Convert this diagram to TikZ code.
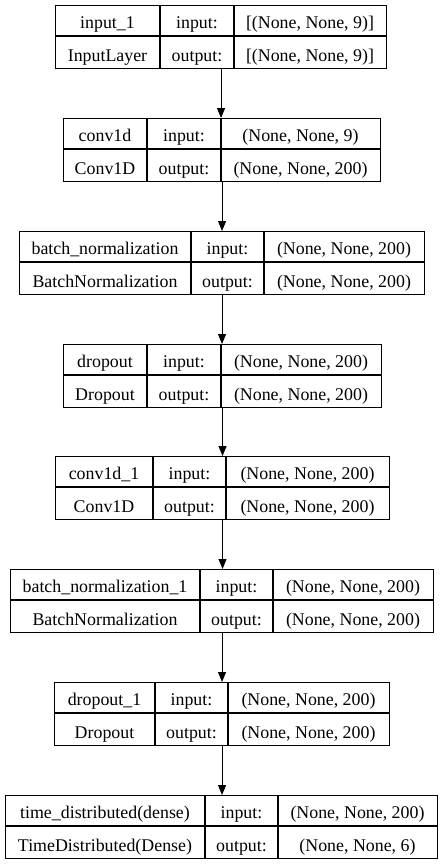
\documentclass[tikz,border=0pt]{standalone}
\usepackage{fontspec}
\setmainfont{Liberation Serif}
\usetikzlibrary{arrows.meta}
\tikzset{
  lay/.style={draw=black, line width=0.8pt, rectangle, inner sep=0pt, anchor=north west},
  sep/.style={draw=black, line width=0.8pt},
  txt/.style={inner sep=0pt, anchor=base, font=\fontsize{13.4pt}{16pt}\selectfont, text=black},
  flow/.style={draw=black, line width=0.8pt, -{Triangle[length=7.5pt,width=6pt]}}
}
% #1 name, #2 top y, #3 x1, #4 divider1, #5 divider2, #6 x2
\newcommand\layerframe[6]{%
  \node[lay, minimum width={(#6-#3)*0.75pt}, minimum height={63*0.75pt}] (#1) at (#3,#2) {};
  \draw[sep] (#3,{#2+31}) -- (#6,{#2+31});
  \draw[sep] (#4,#2) -- (#4,{#2+63});
  \draw[sep] (#5,#2) -- (#5,{#2+63});
  \coordinate (#1-c1a) at ({(#3+#4)/2},{#2+23.5});
  \coordinate (#1-c1b) at ({(#3+#4)/2},{#2+56});
  \coordinate (#1-c2a) at ({(#4+#5)/2},{#2+23.5});
  \coordinate (#1-c2b) at ({(#4+#5)/2},{#2+56});
  \coordinate (#1-c3a) at ({(#5+#6)/2},{#2+23.5});
  \coordinate (#1-c3b) at ({(#5+#6)/2},{#2+56});
}
% #1 name, #2 layer name, #3 class, #4 input shape, #5 output shape
\newcommand\layertexts[5]{%
  \node[txt] (#1-n) at (#1-c1a) {#2};
  \node[txt] (#1-k) at (#1-c1b) {#3};
  \node[txt] (#1-i) at (#1-c2a) {input:};
  \node[txt] (#1-o) at (#1-c2b) {output:};
  \node[txt] (#1-is) at (#1-c3a) {#4};
  \node[txt] (#1-os) at (#1-c3b) {#5};
}
\begin{document}
\begin{tikzpicture}[x=0.75pt,y=-0.75pt]
\useasboundingbox (0,0) rectangle (444,864);
\fill[white] (0,0) rectangle (444,864);

\layerframe{b1}{5}{55}{160}{234}{386}
\layertexts{b1}{input\_1}{InputLayer}{[(None, None, 9)]}{[(None, None, 9)]}

\layerframe{b2}{118}{63}{147}{221}{380}
\layertexts{b2}{conv1d}{Conv1D}{(None, None, 9)}{(None, None, 200)}

\layerframe{b3}{231}{19}{191}{264}{424}
\layertexts{b3}{batch\_normalization}{BatchNormalization}{(None, None, 200)}{(None, None, 200)}

\layerframe{b4}{344}{63}{147}{221}{381}
\layertexts{b4}{dropout}{Dropout}{(None, None, 200)}{(None, None, 200)}

\layerframe{b5}{456}{55}{153}{226}{389}
\layertexts{b5}{conv1d\_1}{Conv1D}{(None, None, 200)}{(None, None, 200)}

\layerframe{b6}{569}{10}{200}{273}{433}
\layertexts{b6}{batch\_normalization\_1}{BatchNormalization}{(None, None, 200)}{(None, None, 200)}

\layerframe{b7}{682}{54}{155}{228}{389}
\layertexts{b7}{dropout\_1}{Dropout}{(None, None, 200)}{(None, None, 200)}

\layerframe{b8}{795}{5}{205}{278}{437}
\layertexts{b8}{time\_distributed(dense)}{TimeDistributed(Dense)}{(None, None, 200)}{(None, None, 6)}

\foreach \a/\b in {b1/b2,b2/b3,b3/b4,b4/b5,b5/b6,b6/b7,b7/b8}
  \draw[flow] (\a.south) -- (\a.south |- \b.north);
\end{tikzpicture}
\end{document}
